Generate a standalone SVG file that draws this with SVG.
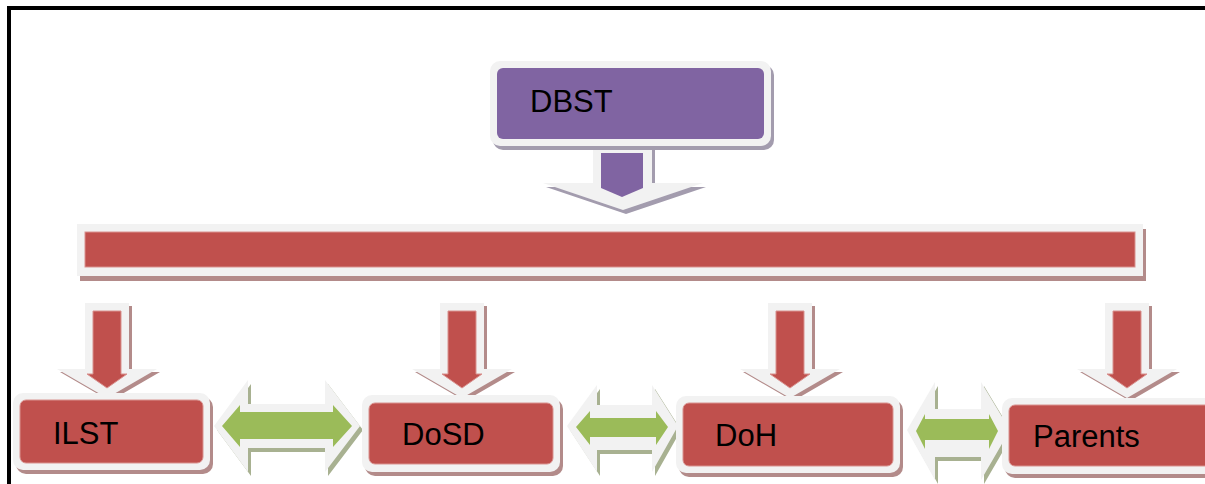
<svg xmlns="http://www.w3.org/2000/svg" width="1205" height="484" viewBox="0 0 1205 484">
  <style>
    .rim { fill: #f2f2f2; }
    .shadow-red { fill: #b38b8a; }
    .shadow-purple { fill: #a39cae; }
    .shadow-green { fill: #a8b191; }
    .red { fill: #c0504d; stroke: #d9928f; stroke-width: 1; }
    .purple { fill: #8064a2; }
    .green { fill: #9bbb59; }
    .label { font-family: "Liberation Sans", Arial, sans-serif; font-size: 31px; fill: #000; }
  </style>
  <defs>
    <!-- down arrow: outer rim and coloured core, centred on x=0 -->
    <polygon id="down-rim" points="-22,303 22,303 22,369 50,369 0,398 -50,369 -22,369"/>
    <polygon id="down-core" points="-14,311 14,311 14,374 20,374 0,388 -20,374 -14,374"/>
  </defs>

  <rect width="1205" height="484" fill="#fff"/>

  <!-- page frame -->
  <g id="frame" fill="#000">
    <rect x="7" y="6" width="1198" height="4"/>
    <rect x="7" y="6" width="4" height="478"/>
  </g>

  <!-- connectors -->
  <g id="connectors">
    <!-- DBST to distribution bar -->
    <g id="arrow-dbst">
      <polygon class="shadow-purple" transform="translate(3,4)" points="593,140 652,140 652,183 703,183 623,210 543,183 593,183"/>
      <polygon class="rim" points="593,140 652,140 652,183 703,183 623,210 543,183 593,183"/>
      <polygon class="purple" points="601,153 643,153 643,188 622,197 601,188"/>
    </g>

    <!-- distribution bar down to each unit -->
    <g id="arrow-ilst" transform="translate(107,0)">
      <use href="#down-rim" class="shadow-red" transform="translate(3,3)"/>
      <use href="#down-rim" class="rim"/>
      <use href="#down-core" class="red"/>
    </g>
    <g id="arrow-dosd" transform="translate(462,0)">
      <use href="#down-rim" class="shadow-red" transform="translate(3,3)"/>
      <use href="#down-rim" class="rim"/>
      <use href="#down-core" class="red"/>
    </g>
    <g id="arrow-doh" transform="translate(790,0)">
      <use href="#down-rim" class="shadow-red" transform="translate(3,3)"/>
      <use href="#down-rim" class="rim"/>
      <use href="#down-core" class="red"/>
    </g>
    <g id="arrow-parents" transform="translate(1127,0)">
      <use href="#down-rim" class="shadow-red" transform="translate(3,3)"/>
      <use href="#down-rim" class="rim"/>
      <use href="#down-core" class="red"/>
    </g>

    <!-- two-way links between neighbouring units -->
    <g id="link-ilst-dosd">
      <polygon class="shadow-green" transform="translate(3,4)" points="214,426 248,380 248,404 325,404 325,380 360,426 325,472 325,448 248,448 248,472"/>
      <polygon class="rim" points="214,426 248,380 248,404 325,404 325,380 360,426 325,472 325,448 248,448 248,472"/>
      <polygon class="green" points="222,426 240,405 240,412 333,412 333,405 352,426 333,447 333,439 240,439 240,447"/>
    </g>
    <g id="link-dosd-doh">
      <polygon class="shadow-green" transform="translate(3,4)" points="567,426 597,385 597,405 652,405 652,385 678,426 652,472 652,450 597,450 597,472"/>
      <polygon class="rim" points="567,426 597,385 597,405 652,405 652,385 678,426 652,472 652,450 597,450 597,472"/>
      <polygon class="green" points="576,427 590,411 590,418 656,418 656,411 668,427 656,445 656,437 590,437 590,445"/>
    </g>
    <g id="link-doh-parents">
      <polygon class="shadow-green" transform="translate(3,4)" points="907,430 935,382 935,409 981,409 981,382 1010,430 981,480 981,457 935,457 935,480"/>
      <polygon class="rim" points="907,430 935,382 935,409 981,409 981,382 1010,430 981,480 981,457 935,457 935,480"/>
      <polygon class="green" points="916,431 925,414 925,419 989,419 989,414 998,431 989,449 989,440 925,440 925,449"/>
    </g>
  </g>

  <!-- top unit -->
  <g id="DBST">
    <rect class="shadow-purple" x="493" y="65" width="281" height="85" rx="10"/>
    <rect class="rim" x="490" y="61" width="281" height="85" rx="10"/>
    <rect class="purple" x="497" y="68" width="267" height="71" rx="6"/>
    <text class="label" x="530" y="112">DBST</text>
  </g>

  <!-- distribution bar -->
  <g id="bar">
    <rect class="shadow-red" x="80" y="229" width="1066" height="52"/>
    <rect class="rim" x="77" y="224" width="1066" height="52"/>
    <rect class="red" x="85" y="232" width="1050" height="35"/>
  </g>

  <!-- units -->
  <g id="ILST">
    <rect class="shadow-red" x="16" y="397" width="197" height="77" rx="10"/>
    <rect class="rim" x="13" y="393" width="197" height="77" rx="10"/>
    <rect class="red" x="20" y="400" width="183" height="63" rx="6"/>
    <text class="label" x="53" y="444">ILST</text>
  </g>
  <g id="DoSD">
    <rect class="shadow-red" x="365" y="399" width="198" height="77" rx="10"/>
    <rect class="rim" x="362" y="395" width="198" height="77" rx="10"/>
    <rect class="red" x="369" y="403" width="184" height="61" rx="6"/>
    <text class="label" x="402" y="445">DoSD</text>
  </g>
  <g id="DoH">
    <rect class="shadow-red" x="679" y="400" width="224" height="77" rx="10"/>
    <rect class="rim" x="676" y="396" width="224" height="77" rx="10"/>
    <rect class="red" x="683" y="403" width="210" height="63" rx="6"/>
    <text class="label" x="715" y="446">DoH</text>
  </g>
  <g id="Parents">
    <rect class="shadow-red" x="1005" y="402" width="220" height="76" rx="10"/>
    <rect class="rim" x="1002" y="398" width="220" height="76" rx="10"/>
    <rect class="red" x="1009" y="405" width="210" height="61" rx="6"/>
    <text class="label" x="1033" y="447">Parents</text>
  </g>
</svg>
